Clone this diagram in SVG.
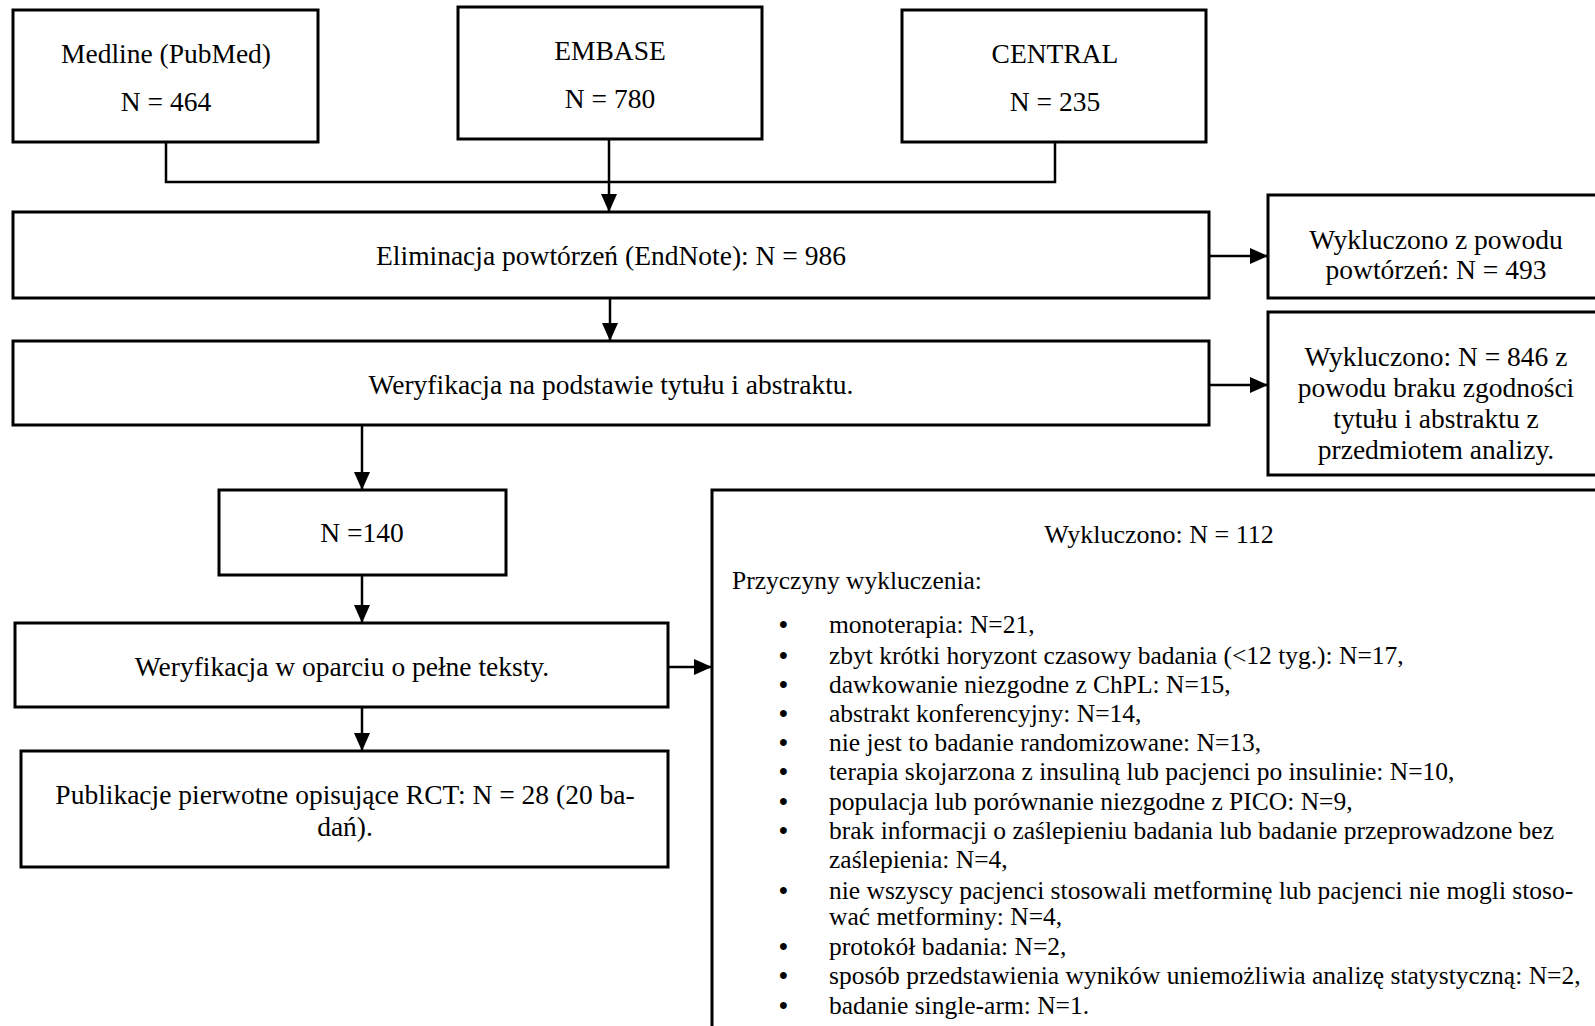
<svg xmlns="http://www.w3.org/2000/svg" width="1595" height="1026" viewBox="0 0 1595 1026">
<defs>
<style>
.box{fill:#fff;stroke:#000;stroke-width:3}
.ln{fill:none;stroke:#000;stroke-width:2.5}
text{font-family:"Liberation Serif","DejaVu Serif",serif;fill:#000}
.t{font-size:27.5px;text-anchor:middle}
.l{font-size:25.5px}
.b{font-size:25px;font-weight:bold}
.c{text-anchor:middle}
</style>
<marker id="ah" markerUnits="userSpaceOnUse" markerWidth="20" markerHeight="18" refX="18" refY="8" orient="auto">
<path d="M0,0 L18,8 L0,16 z" fill="#000"/>
</marker>
</defs>
<rect width="1595" height="1026" fill="#fff"/>
<g id="connectors">
<polyline class="ln" points="166,142 166,182 1055,182 1055,142"/>
<line class="ln" x1="609" y1="139" x2="609" y2="212" marker-end="url(#ah)"/>
<line class="ln" x1="1209" y1="256" x2="1268" y2="256" marker-end="url(#ah)"/>
<line class="ln" x1="610" y1="298" x2="610" y2="341" marker-end="url(#ah)"/>
<line class="ln" x1="1209" y1="385" x2="1268" y2="385" marker-end="url(#ah)"/>
<line class="ln" x1="362" y1="425" x2="362" y2="490" marker-end="url(#ah)"/>
<line class="ln" x1="362" y1="575" x2="362" y2="623" marker-end="url(#ah)"/>
<line class="ln" x1="668" y1="667" x2="712" y2="667" marker-end="url(#ah)"/>
<line class="ln" x1="362" y1="707" x2="362" y2="751" marker-end="url(#ah)"/>
</g>
<g id="medline">
<rect class="box" x="13" y="10" width="305" height="132"/>
<text class="t" x="166" y="63">Medline (PubMed)</text>
<text class="t" x="166" y="111">N = 464</text>
</g>
<g id="embase">
<rect class="box" x="458" y="7" width="304" height="132"/>
<text class="t" x="610" y="60">EMBASE</text>
<text class="t" x="610" y="108">N = 780</text>
</g>
<g id="central">
<rect class="box" x="902" y="10" width="304" height="132"/>
<text class="t" x="1055" y="63">CENTRAL</text>
<text class="t" x="1055" y="111">N = 235</text>
</g>
<g id="eliminacja">
<rect class="box" x="13" y="212" width="1196" height="86"/>
<text class="t" x="611" y="265">Eliminacja powtórzeń (EndNote): N = 986</text>
</g>
<g id="wykl-powtorzen">
<rect class="box" x="1268" y="195" width="340" height="103"/>
<text class="t" x="1436" y="249">Wykluczono z powodu</text>
<text class="t" x="1436" y="279">powtórzeń: N = 493</text>
</g>
<g id="weryfikacja-tytul">
<rect class="box" x="13" y="341" width="1196" height="84"/>
<text class="t" x="611" y="394">Weryfikacja na podstawie tytułu i abstraktu.</text>
</g>
<g id="wykl-tytul">
<rect class="box" x="1268" y="312" width="340" height="163"/>
<text class="t" x="1436" y="366">Wykluczono: N = 846 z</text>
<text class="t" x="1436" y="397">powodu braku zgodności</text>
<text class="t" x="1436" y="428">tytułu i abstraktu z</text>
<text class="t" x="1436" y="459">przedmiotem analizy.</text>
</g>
<g id="n140">
<rect class="box" x="219" y="490" width="287" height="85"/>
<text class="t" x="362" y="542">N =140</text>
</g>
<g id="weryfikacja-pelne">
<rect class="box" x="15" y="623" width="653" height="84"/>
<text class="t" x="342" y="676">Weryfikacja w oparciu o pełne teksty.</text>
</g>
<g id="publikacje">
<rect class="box" x="21" y="751" width="647" height="116"/>
<text class="t" x="345" y="804">Publikacje pierwotne opisujące RCT: N = 28 (20 ba-</text>
<text class="t" x="345" y="836">dań).</text>
</g>
<g id="wykl-112">
<rect class="box" x="712" y="490" width="896" height="545"/>
<text class="l c" x="1159" y="543" style="font-size:26px">Wykluczono: N = 112</text>
<text class="l" x="732" y="589">Przyczyny wykluczenia:</text>
<text class="b" x="779" y="633">•</text><text class="l" x="829" y="633">monoterapia: N=21,</text>
<text class="b" x="779" y="664">•</text><text class="l" x="829" y="664">zbyt krótki horyzont czasowy badania (&lt;12 tyg.): N=17,</text>
<text class="b" x="779" y="693">•</text><text class="l" x="829" y="693">dawkowanie niezgodne z ChPL: N=15,</text>
<text class="b" x="779" y="722">•</text><text class="l" x="829" y="722">abstrakt konferencyjny: N=14,</text>
<text class="b" x="779" y="751">•</text><text class="l" x="829" y="751">nie jest to badanie randomizowane: N=13,</text>
<text class="b" x="779" y="780">•</text><text class="l" x="829" y="780">terapia skojarzona z insuliną lub pacjenci po insulinie: N=10,</text>
<text class="b" x="779" y="810">•</text><text class="l" x="829" y="810">populacja lub porównanie niezgodne z PICO: N=9,</text>
<text class="b" x="779" y="839">•</text><text class="l" x="829" y="839">brak informacji o zaślepieniu badania lub badanie przeprowadzone bez</text>
<text class="l" x="829" y="868">zaślepienia: N=4,</text>
<text class="b" x="779" y="899">•</text><text class="l" x="829" y="899">nie wszyscy pacjenci stosowali metforminę lub pacjenci nie mogli stoso-</text>
<text class="l" x="829" y="925">wać metforminy: N=4,</text>
<text class="b" x="779" y="955">•</text><text class="l" x="829" y="955">protokół badania: N=2,</text>
<text class="b" x="779" y="984">•</text><text class="l" x="829" y="984">sposób przedstawienia wyników uniemożliwia analizę statystyczną: N=2,</text>
<text class="b" x="779" y="1014">•</text><text class="l" x="829" y="1014">badanie single-arm: N=1.</text>
</g>
</svg>
